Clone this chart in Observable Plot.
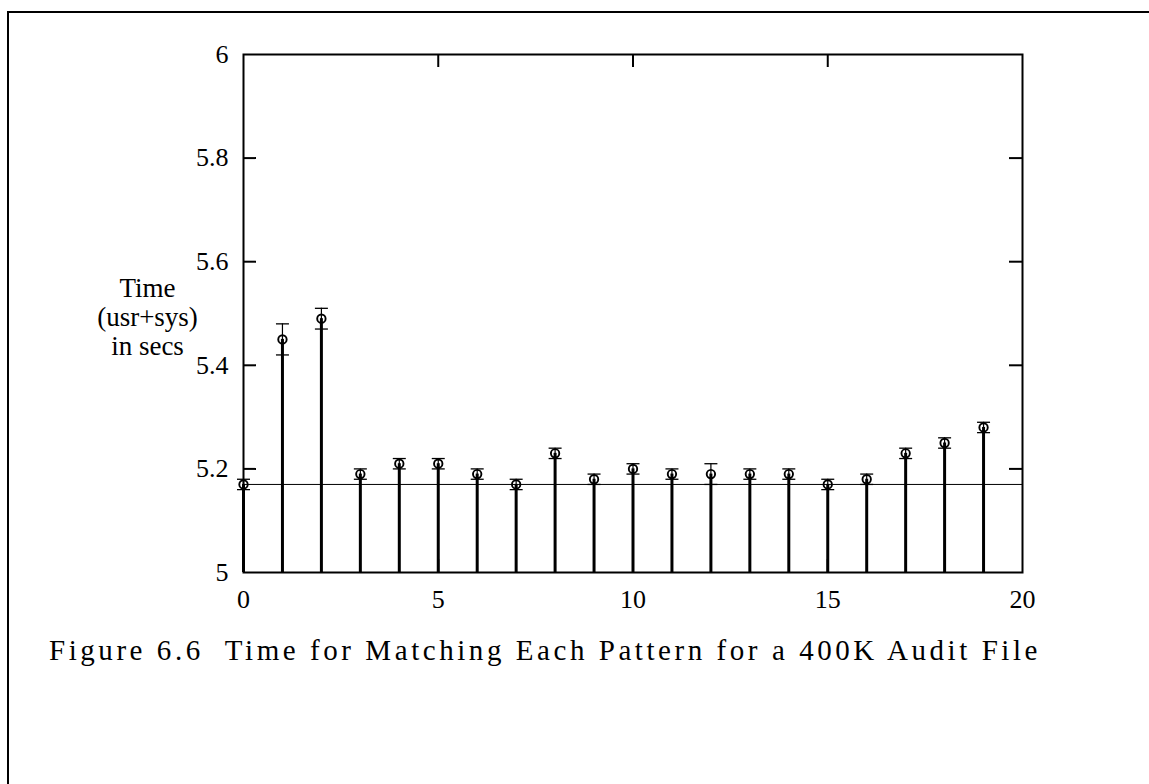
<!DOCTYPE html>
<html>
<head>
<meta charset="utf-8">
<script src="https://cdn.jsdelivr.net/npm/d3@7"></script>
<script src="https://cdn.jsdelivr.net/npm/@observablehq/plot@0.6"></script>
<style>
  html, body { margin: 0; padding: 0; background: #fff; overflow: hidden; width: 1149px; height: 784px; }
  #frame { position: absolute; left: 7px; top: 11px; width: 1200px; height: 900px;
           border-left: 2px solid #000; border-top: 2px solid #000; pointer-events: none; }
  #chart { position: absolute; left: 0; top: 0; }
  #caption { position: absolute; top: 634px; left: 0; width: 1090px; text-align: center;
             font-family: "Liberation Serif", "DejaVu Serif", serif; font-size: 29px; white-space: pre; color: #000; }
</style>
</head>
<body>
<div id="chart"></div>
<div id="frame"></div>
<div id="caption"><span id="captext">Figure 6.6  Time for Matching Each Pattern for a 400K Audit File</span></div>
<script>
// ---- data ----
const patterns  = [0,1,2,3,4,5,6,7,8,9,10,11,12,13,14,15,16,17,18,19];
const meanTime  = [5.17,5.45,5.49,5.19,5.21,5.21,5.19,5.17,5.23,5.18,5.20,5.19,5.19,5.19,5.19,5.17,5.18,5.23,5.25,5.28];
const lowTime   = [5.16,5.42,5.47,5.18,5.20,5.20,5.18,5.16,5.22,5.17,5.19,5.18,5.17,5.18,5.18,5.16,5.17,5.22,5.24,5.27];
const highTime  = [5.18,5.48,5.51,5.20,5.22,5.22,5.20,5.18,5.24,5.19,5.21,5.20,5.21,5.20,5.20,5.18,5.19,5.24,5.26,5.29];
const baselineTime = [5.17];
const xDomain = [0, 20];
const yDomain = [5, 6];
const xTicks = [0, 5, 10, 15, 20];
const xTickLabels = ["0", "5", "10", "15", "20"];
const yTicks = [5, 5.2, 5.4, 5.6, 5.8, 6];
const yTickLabels = ["5", "5.2", "5.4", "5.6", "5.8", "6"];
const yLabel = "Time\n(usr+sys)\nin secs";

const rows = patterns.map((p, i) => ({p, mean: meanTime[i], lo: lowTime[i], hi: highTime[i], base: yDomain[0]}));

// ---- layout ----
const W = 1149, H = 784;
const mL = 243, mR = 127, mT = 54, mB = 212;
const plotW = W - mL - mR, plotH = H - mT - mB;
const tickLen = 13;
const FONT = "Liberation Serif, DejaVu Serif, serif";

const capSymbol = {
  draw(context, size) {
    const w = Math.sqrt(size / Math.PI);
    context.moveTo(-w, 0);
    context.lineTo(w, 0);
  }
};

const chart = Plot.plot({
  width: W, height: H,
  marginLeft: mL, marginRight: mR, marginTop: mT, marginBottom: mB,
  style: {fontFamily: FONT, background: "white", color: "black"},
  x: {domain: xDomain},
  y: {domain: yDomain},
  marks: [
    Plot.ruleY(baselineTime, {y: d => d, stroke: "black", strokeWidth: 1}),
    // inward ticks
    Plot.tickY(yTicks.slice(1, -1), {y: d => d, insetRight: plotW - tickLen, stroke: "black", strokeWidth: 2}),
    Plot.tickY(yTicks.slice(1, -1), {y: d => d, insetLeft: plotW - tickLen, stroke: "black", strokeWidth: 2}),
    Plot.tickX(xTicks.slice(1, -1), {x: d => d, insetBottom: plotH - tickLen, stroke: "black", strokeWidth: 2}),
    Plot.tickX(xTicks.slice(1, -1), {x: d => d, insetTop: plotH - tickLen, stroke: "black", strokeWidth: 2}),
    // impulses
    Plot.ruleX(rows, {x: "p", y1: "base", y2: "mean", stroke: "black", strokeWidth: 3}),
    // error bars
    Plot.ruleX(rows, {x: "p", y1: "lo", y2: "hi", stroke: "black", strokeWidth: 1.2}),
    Plot.dot(rows, {x: "p", y: "lo", symbol: capSymbol, r: 6.5, stroke: "black", strokeWidth: 1.3, fill: "none"}),
    Plot.dot(rows, {x: "p", y: "hi", symbol: capSymbol, r: 6.5, stroke: "black", strokeWidth: 1.3, fill: "none"}),
    // points
    Plot.dot(rows, {x: "p", y: "mean", r: 4.2, stroke: "black", strokeWidth: 1.9, fill: "none"}),
    Plot.frame({stroke: "black", strokeWidth: 2}),
    Plot.axisY({ticks: yTicks, tickSize: 0, tickPadding: 15, fontSize: 26,
                tickFormat: (d, i) => yTickLabels[yTicks.indexOf(d)], label: null}),
    Plot.axisX({ticks: xTicks, tickSize: 0, tickPadding: 17, fontSize: 26,
                tickFormat: (d) => xTickLabels[xTicks.indexOf(d)], label: null}),
    Plot.text([yLabel], {text: d => d, frameAnchor: "left", dx: -96, dy: 3, lineHeight: 1.08,
                         fontSize: 27, textAnchor: "middle", fill: "black"})
  ]
});
document.getElementById("chart").appendChild(chart);

// stretch caption letter spacing to match original typesetting width
const cap = document.getElementById("captext");
const targetW = 992;
const natural = cap.getBoundingClientRect().width;
const n = cap.textContent.length;
cap.style.letterSpacing = Math.max(0, (targetW - natural) / n) + "px";
</script>
</body>
</html>
